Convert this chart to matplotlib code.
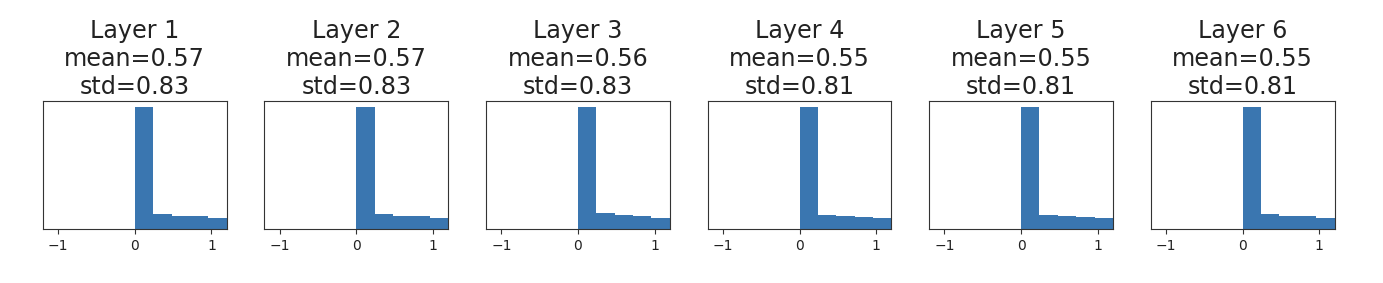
import matplotlib
matplotlib.use("Agg")
import matplotlib.pyplot as plt
import numpy as np

# Layer stats shown in the titles
layers = ["Layer 1", "Layer 2", "Layer 3", "Layer 4", "Layer 5", "Layer 6"]
means = [0.57, 0.57, 0.56, 0.55, 0.55, 0.55]
stds = [0.83, 0.83, 0.83, 0.81, 0.81, 0.81]

# Histogram bin edges and (relative) counts
bin_edges = [0.0, 0.24, 0.48, 0.72, 0.96, 1.2]
counts = [
    [100, 12.4, 10.8, 10.6, 9.0],
    [100, 12.4, 10.9, 10.6, 9.0],
    [100, 13.0, 11.6, 11.0, 9.4],
    [100, 12.0, 10.6, 10.3, 8.8],
    [100, 12.0, 10.6, 10.3, 8.8],
    [100, 12.6, 11.2, 10.6, 9.2],
]

fig, axes = plt.subplots(1, 6, figsize=(13.83, 2.83), dpi=100)
fig.subplots_adjust(left=0.031, right=0.965, top=0.643, bottom=0.19, wspace=0.205)

for ax, name, m, s, c in zip(axes, layers, means, stds, counts):
    ax.hist(bin_edges[:-1], bins=bin_edges, weights=c, color="#3a76b0")
    ax.set_xlim(-1.2, 1.2)
    ax.set_yticks([])
    ax.set_xticks([-1, 0, 1])
    ax.tick_params(axis="x", labelsize=10, colors="#333333", labelcolor="#222222")
    ax.set_title(f"{name}\nmean={m:.2f}\nstd={s:.2f}", fontsize=17.2, color="#222222",
                 linespacing=1.2, pad=5)
    for sp in ax.spines.values():
        sp.set_color("#333333")

fig.savefig("out.png", dpi=100)
